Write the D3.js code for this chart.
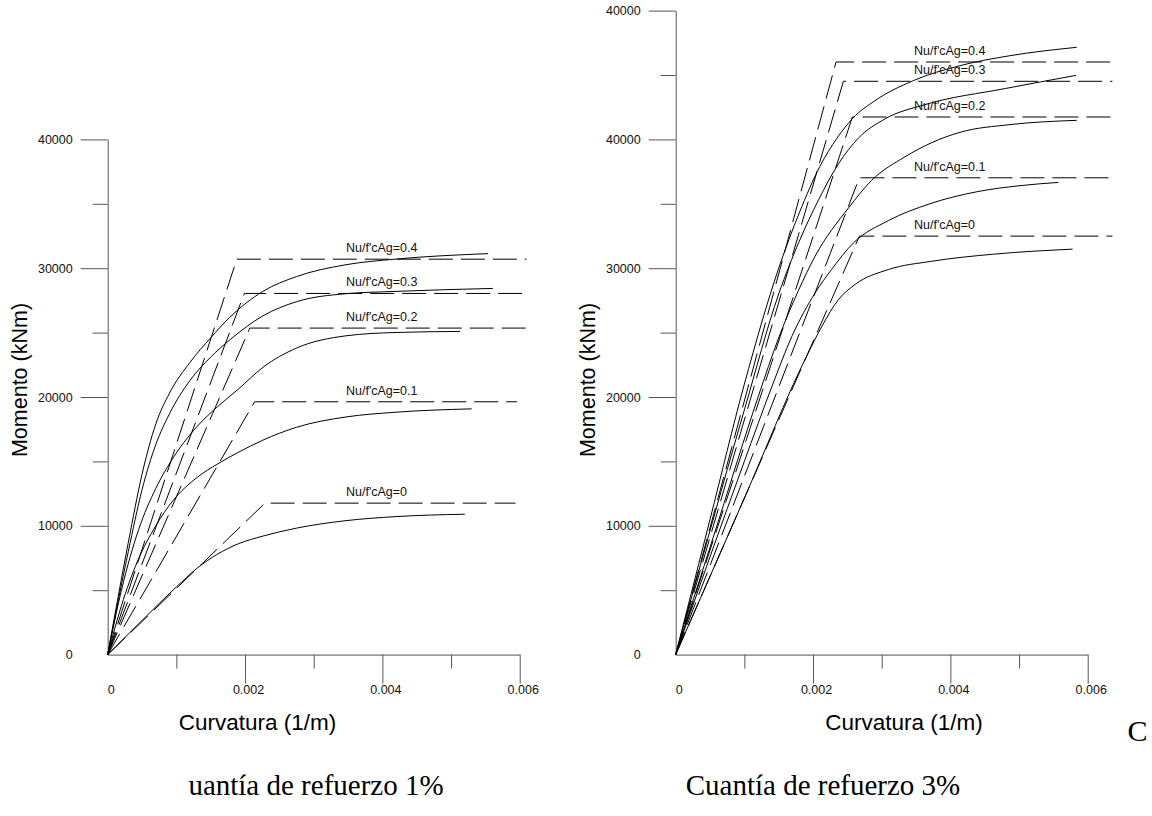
<!DOCTYPE html>
<html>
<head>
<meta charset="utf-8">
<script src="https://cdn.jsdelivr.net/npm/d3@7"></script>
<style>
  body { margin: 0; background: #fff; }
  svg { display: block; }
</style>
</head>
<body>
<svg id="chart" width="1152" height="816"></svg>
<script>
// axis ticks and labels
var curvTicks = [0, 0.002, 0.004, 0.006];
var curvTickLabels = ["0", "0.002", "0.004", "0.006"];
var curvMinorTicks = [0.001, 0.003, 0.005];

var leftMomentTicks = [0, 10000, 20000, 30000, 40000];
var leftMomentLabels = ["0", "10000", "20000", "30000", "40000"];
var leftMomentMinor = [5000, 15000, 25000, 35000];

var rightMomentTicks = [0, 10000, 20000, 30000, 40000, 50000];
var rightMomentLabels = ["0", "10000", "20000", "30000", "40000", "40000"];
var rightMomentMinor = [5000, 15000, 25000, 35000, 45000];

var axialLabels = ["Nu/f'cAg=0", "Nu/f'cAg=0.1", "Nu/f'cAg=0.2", "Nu/f'cAg=0.3", "Nu/f'cAg=0.4"];

// cuantia 1% : moment-curvature curves [curvature, moment]
var rho1Curve0 = [[0,0],[0.0005,2650],[0.001,5250],[0.0013,6700],[0.0016,7800],[0.0019,8600],[0.00226,9200],[0.00275,9820],[0.00347,10400],[0.0042,10715],[0.0052,10900]];
var rho1Curve1 = [[0,0],[0.0002,3800],[0.00043,7200],[0.0007,10000],[0.00095,11950],[0.0013,13750],[0.0016,14800],[0.0019,15700],[0.00226,16650],[0.00275,17650],[0.00347,18450],[0.0042,18820],[0.0053,19080]];
var rho1Curve2 = [[0,0],[0.0002,5000],[0.00045,9700],[0.0007,12900],[0.00092,15000],[0.0013,17700],[0.0016,19250],[0.0019,20600],[0.00226,22300],[0.00275,23800],[0.00347,24750],[0.0042,25010],[0.00513,25090]];
var rho1Curve3 = [[0,0],[0.0003,8000],[0.0005,12800],[0.0007,16300],[0.0009,18700],[0.0012,21300],[0.0015,23100],[0.00178,24440],[0.00226,26300],[0.00275,27400],[0.00347,28020],[0.0042,28200],[0.00561,28430]];
var rho1Curve4 = [[0,0],[0.0003,8700],[0.0005,14000],[0.0007,17900],[0.0009,20300],[0.0012,22700],[0.0015,24600],[0.00178,26200],[0.00226,28200],[0.00275,29350],[0.00347,30270],[0.0042,30710],[0.00554,31130]];

// cuantia 1% : idealised bilinear curves
var rho1Bilin0 = [[0,0],[0.00229,11760],[0.00594,11760]];
var rho1Bilin1 = [[0,0],[0.00214,19630],[0.00596,19630]];
var rho1Bilin2 = [[0,0],[0.00207,25350],[0.0061,25350]];
var rho1Bilin3 = [[0,0],[0.00199,28040],[0.0061,28040]];
var rho1Bilin4 = [[0,0],[0.00188,30700],[0.0061,30700]];

// cuantia 3% : moment-curvature curves
var rho3Curve0 = [[0,0],[0.001,12150],[0.0019,23100],[0.00213,25500],[0.00237,27560],[0.00261,28730],[0.0031,29900],[0.00373,30540],[0.00463,31090],[0.00578,31480]];
var rho3Curve1 = [[0,0],[0.0005,7600],[0.001,15000],[0.0014,20800],[0.0017,24800],[0.00203,28080],[0.00227,29900],[0.00259,31970],[0.0031,33700],[0.0037,35000],[0.0044,35950],[0.005,36400],[0.00557,36660]];
var rho3Curve2 = [[0,0],[0.0006,10000],[0.0012,20000],[0.0015,24600],[0.00179,28300],[0.00203,30930],[0.00252,34700],[0.00285,36800],[0.00334,38650],[0.00373,39750],[0.00414,40550],[0.00487,41150],[0.00584,41480]];
var rho3Curve3 = [[0,0],[0.001,19000],[0.0015,28000],[0.0018,32100],[0.00208,35300],[0.00237,38100],[0.00266,40100],[0.00305,41600],[0.00363,42700],[0.0048,43950],[0.00583,44970]];
var rho3Curve4 = [[0,0],[0.0005,10500],[0.001,21000],[0.0015,30000],[0.0018,34300],[0.0021,37900],[0.00235,40100],[0.00258,41650],[0.0029,43000],[0.00346,44560],[0.00414,45725],[0.00487,46500],[0.00584,47150]];

// cuantia 3% : idealised bilinear curves
var rho3Bilin0 = [[0,0],[0.002675,32490],[0.00636,32490]];
var rho3Bilin1 = [[0,0],[0.002675,37020],[0.00636,37020]];
var rho3Bilin2 = [[0,0],[0.002573,41740],[0.00636,41740]];
var rho3Bilin3 = [[0,0],[0.002442,44510],[0.00636,44510]];
var rho3Bilin4 = [[0,0],[0.002335,46010],[0.00636,46010]];

var svg = d3.select("#chart");
var sansFont = "'Liberation Sans', Arial, sans-serif";
var serifFont = "'Liberation Serif', 'Times New Roman', serif";

function drawPanel(p) {
    /* draws one moment-curvature panel */

    var x = d3.scaleLinear().domain([0, 0.006]).range([p.left, p.left + 412]);
    var y = d3.scaleLinear().domain([0, p.yMax]).range([654.6, 654.6 - p.yMax / 10000 * 128.8]);

    // minor y ticks
    var yMinor = svg.append("g")
        .attr("transform", "translate(" + p.left + ",0)")
        .call(d3.axisLeft(y).tickValues(p.yMinor).tickSize(15).tickSizeOuter(0).tickFormat(""));
    yMinor.select(".domain").remove();

    // major y ticks with labels
    var yMajor = svg.append("g")
        .attr("transform", "translate(" + p.left + ",0)")
        .call(d3.axisLeft(y).tickValues(p.yTicks).tickSize(27).tickSizeOuter(0).tickPadding(8)
            .tickFormat(function(d, i) { return p.yLabels[i]; }));

    // x axis
    var xMinor = svg.append("g")
        .attr("transform", "translate(0,654.6)")
        .call(d3.axisBottom(x).tickValues(curvMinorTicks).tickSize(14).tickSizeOuter(0).tickFormat(""));
    xMinor.select(".domain").remove();

    var xMajor = svg.append("g")
        .attr("transform", "translate(0,654.6)")
        .call(d3.axisBottom(x).tickValues(curvTicks).tickSize(29).tickSizeOuter(0).tickPadding(2)
            .tickFormat(function(d, i) { return curvTickLabels[i]; }));

    [yMinor, yMajor, xMinor, xMajor].forEach(function(g) {
        g.attr("font-family", sansFont).attr("font-size", 12.5).attr("color", "#555");
        g.selectAll("text").attr("fill", "#111");
    });
    xMajor.selectAll(".tick text").attr("dx", 3);

    // no tick mark at the origin
    yMajor.selectAll(".tick").filter(function(d) { return d === 0; }).select("line").remove();
    xMajor.selectAll(".tick").filter(function(d) { return d === 0; }).select("line").remove();

    var smooth = d3.line()
        .x(function(d) { return x(d[0]); })
        .y(function(d) { return y(d[1]); })
        .curve(d3.curveMonotoneX);

    var straight = d3.line()
        .x(function(d) { return x(d[0]); })
        .y(function(d) { return y(d[1]); });

    // bilinear (dashed) lines
    p.bilin.forEach(function(b) {
        svg.append("path")
            .attr("d", straight(b))
            .attr("fill", "none")
            .attr("stroke", "#000")
            .attr("stroke-width", 1)
            .attr("stroke-dasharray", "24,8");
    });

    // moment-curvature curves
    p.curves.forEach(function(c) {
        svg.append("path")
            .attr("d", smooth(c))
            .attr("fill", "none")
            .attr("stroke", "#000")
            .attr("stroke-width", 1);
    });

    // curve labels
    p.bilin.forEach(function(b, i) {
        svg.append("text")
            .attr("x", x(0.00347))
            .attr("y", y(b[1][1]) - 7)
            .attr("font-family", sansFont)
            .attr("font-size", 12.5)
            .attr("fill", "#111")
            .text(axialLabels[i]);
    });

    // axis titles
    svg.append("text")
        .attr("transform", "translate(" + p.yTitleX + ",380) rotate(-90)")
        .attr("text-anchor", "middle")
        .attr("dominant-baseline", "central")
        .attr("font-family", sansFont)
        .attr("font-size", 21.5)
        .text("Momento (kNm)");

    svg.append("text")
        .attr("x", p.xTitleX)
        .attr("y", 730)
        .attr("text-anchor", "middle")
        .attr("font-family", sansFont)
        .attr("font-size", 22.5)
        .text("Curvatura (1/m)");

    svg.append("text")
        .attr("x", p.captionX)
        .attr("y", 795)
        .attr("text-anchor", "middle")
        .attr("font-family", serifFont)
        .attr("font-size", 29)
        .text(p.caption);
}

drawPanel({
    left: 107.7, yMax: 40000,
    yTicks: leftMomentTicks, yLabels: leftMomentLabels, yMinor: leftMomentMinor,
    curves: [rho1Curve0, rho1Curve1, rho1Curve2, rho1Curve3, rho1Curve4],
    bilin: [rho1Bilin0, rho1Bilin1, rho1Bilin2, rho1Bilin3, rho1Bilin4],
    yTitleX: 20, xTitleX: 257.5, captionX: 316, caption: "uantía de refuerzo 1%"
});

drawPanel({
    left: 675.7, yMax: 50000,
    yTicks: rightMomentTicks, yLabels: rightMomentLabels, yMinor: rightMomentMinor,
    curves: [rho3Curve0, rho3Curve1, rho3Curve2, rho3Curve3, rho3Curve4],
    bilin: [rho3Bilin0, rho3Bilin1, rho3Bilin2, rho3Bilin3, rho3Bilin4],
    yTitleX: 588, xTitleX: 904, captionX: 823, caption: "Cuantía de refuerzo 3%"
});

// stray letter at the right edge
svg.append("text")
    .attr("x", 1137.5)
    .attr("y", 741)
    .attr("text-anchor", "middle")
    .attr("font-family", serifFont)
    .attr("font-size", 30)
    .text("C");
</script>
</body>
</html>
